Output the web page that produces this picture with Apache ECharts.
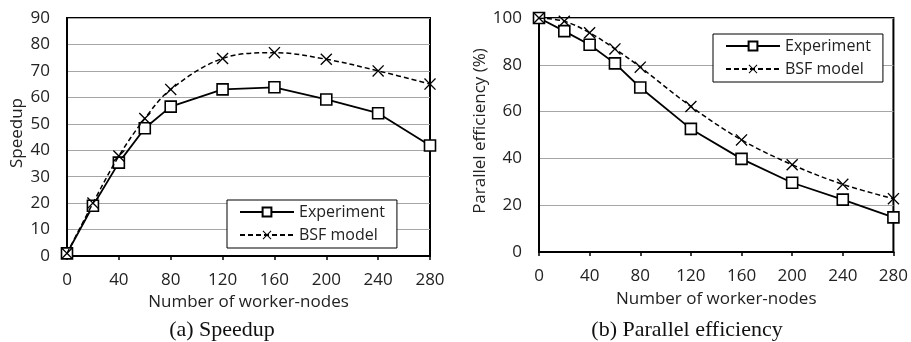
<!DOCTYPE html>
<html>
<head>
<meta charset="utf-8">
<style>html,body{margin:0;padding:0;width:911px;height:342px;background:#fff;overflow:hidden;}#chart{width:911px;height:342px;}</style>
<script src="https://cdn.jsdelivr.net/npm/echarts@6/dist/echarts.min.js"></script>
</head>
<body>
<div id="chart"></div>
<script>
// worker-node counts shared by both panels
var nodes = [0, 20, 40, 60, 80, 120, 160, 200, 240, 280];

// (a) speedup
var speedupExp = [1, 19, 35.3, 48.3, 56.5, 63, 63.8, 59.2, 54, 41.8];
var speedupBsf = [1, 20, 37.8, 52, 63, 74.7, 76.9, 74.4, 70, 65];

// (b) parallel efficiency, %
var effExp = [100, 94.4, 88.6, 80.6, 70.3, 52.6, 39.8, 29.6, 22.4, 14.8];
var effBsf = [100, 98.6, 93.7, 86.8, 79, 62.2, 47.9, 37.3, 28.9, 22.8];

var captions = ["(a) Speedup", "(b) Parallel efficiency"];

var font = "Open Sans";
var cross = "path://M0,0.8L0.8,0L5,4.2L9.2,0L10,0.8L5.8,5L10,9.2L9.2,10L5,5.8L0.8,10L0,9.2L4.2,5Z";

function pairs(vals) {
  return nodes.map(function (n, i) { return [n, vals[i]]; });
}

function xAxis(idx) {
  return {
    type: "value", gridIndex: idx, min: 0, max: 280, interval: 40,
    name: "Number of worker-nodes", nameLocation: "middle", nameGap: idx ? 39 : 36,
    nameTextStyle: { color: "#222", fontSize: 17, fontFamily: font },
    axisLine: { show: true, lineStyle: { color: "#000", width: 2 } },
    axisTick: { show: true, inside: false, length: 4, lineStyle: { color: "#000", width: 1.5 } },
    axisLabel: { color: "#222", fontSize: 17, fontFamily: font, margin: 16 },
    splitLine: { show: false }
  };
}

function yAxis(idx, max, step, name, gap) {
  return {
    type: "value", gridIndex: idx, min: 0, max: max, interval: step,
    name: name, nameLocation: "middle", nameGap: gap,
    nameTextStyle: { color: "#222", fontSize: 17, fontFamily: font, padding: [0, 0, 0, 8] },
    axisLine: { show: true, lineStyle: { color: "#000", width: 2 } },
    axisTick: { show: false },
    axisLabel: { color: "#222", fontSize: 17, fontFamily: font, margin: 17 },
    splitLine: { show: true, lineStyle: { color: "#a6a6a6", width: 1 } }
  };
}

function expSeries(idx, vals) {
  return {
    name: "Experiment", type: "line", xAxisIndex: idx, yAxisIndex: idx,
    data: pairs(vals), symbol: "rect", symbolSize: 11,
    lineStyle: { color: "#000", width: 1.8 },
    itemStyle: { color: "#fff", borderColor: "#000", borderWidth: 1.6 },
    z: 3
  };
}

function bsfSeries(idx, vals) {
  return {
    name: "BSF model", type: "line", xAxisIndex: idx, yAxisIndex: idx,
    data: pairs(vals), smooth: 0.35, symbol: cross, symbolSize: 12,
    lineStyle: { color: "#000", width: 1.5, type: [5, 3] },
    itemStyle: { color: "#000" },
    z: 4
  };
}

function legend(left, top) {
  return {
    left: left, top: top, orient: "vertical",
    data: ["Experiment", "BSF model"],
    itemWidth: 54, itemHeight: 11, itemGap: 7,
    padding: [4, 12, 5, 12],
    borderColor: "#000", borderWidth: 1, backgroundColor: "#fff",
    textStyle: { color: "#222", fontSize: 16, fontFamily: font },
    selectedMode: false
  };
}

var chart = echarts.init(document.getElementById("chart"), null, { renderer: "canvas" });
chart.setOption({
  animation: false,
  backgroundColor: "#fff",
  grid: [
    { left: 67, top: 18, width: 363, height: 238, show: true, borderColor: "#000", borderWidth: 2, backgroundColor: "transparent" },
    { left: 539, top: 18, width: 357, height: 234, show: true, borderColor: "#000", borderWidth: 2, backgroundColor: "transparent" }
  ],
  xAxis: [xAxis(0), xAxis(1)],
  yAxis: [
    yAxis(0, 90, 10, "Speedup", 41),
    yAxis(1, 100, 20, "Parallel efficiency (%)", 40)
  ],
  legend: [legend(227, 200), legend(713, 34)],
  series: [
    expSeries(0, speedupExp), bsfSeries(0, speedupBsf),
    expSeries(1, effExp), bsfSeries(1, effBsf)
  ],
  graphic: [
    { type: "text", x: 222, y: 330, style: { text: captions[0], fill: "#111", font: "22px 'Liberation Serif'", textAlign: "center", textVerticalAlign: "middle" } },
    { type: "text", x: 687, y: 330, style: { text: captions[1], fill: "#111", font: "22px 'Liberation Serif'", textAlign: "center", textVerticalAlign: "middle" } }
  ]
});
</script>
</body>
</html>
